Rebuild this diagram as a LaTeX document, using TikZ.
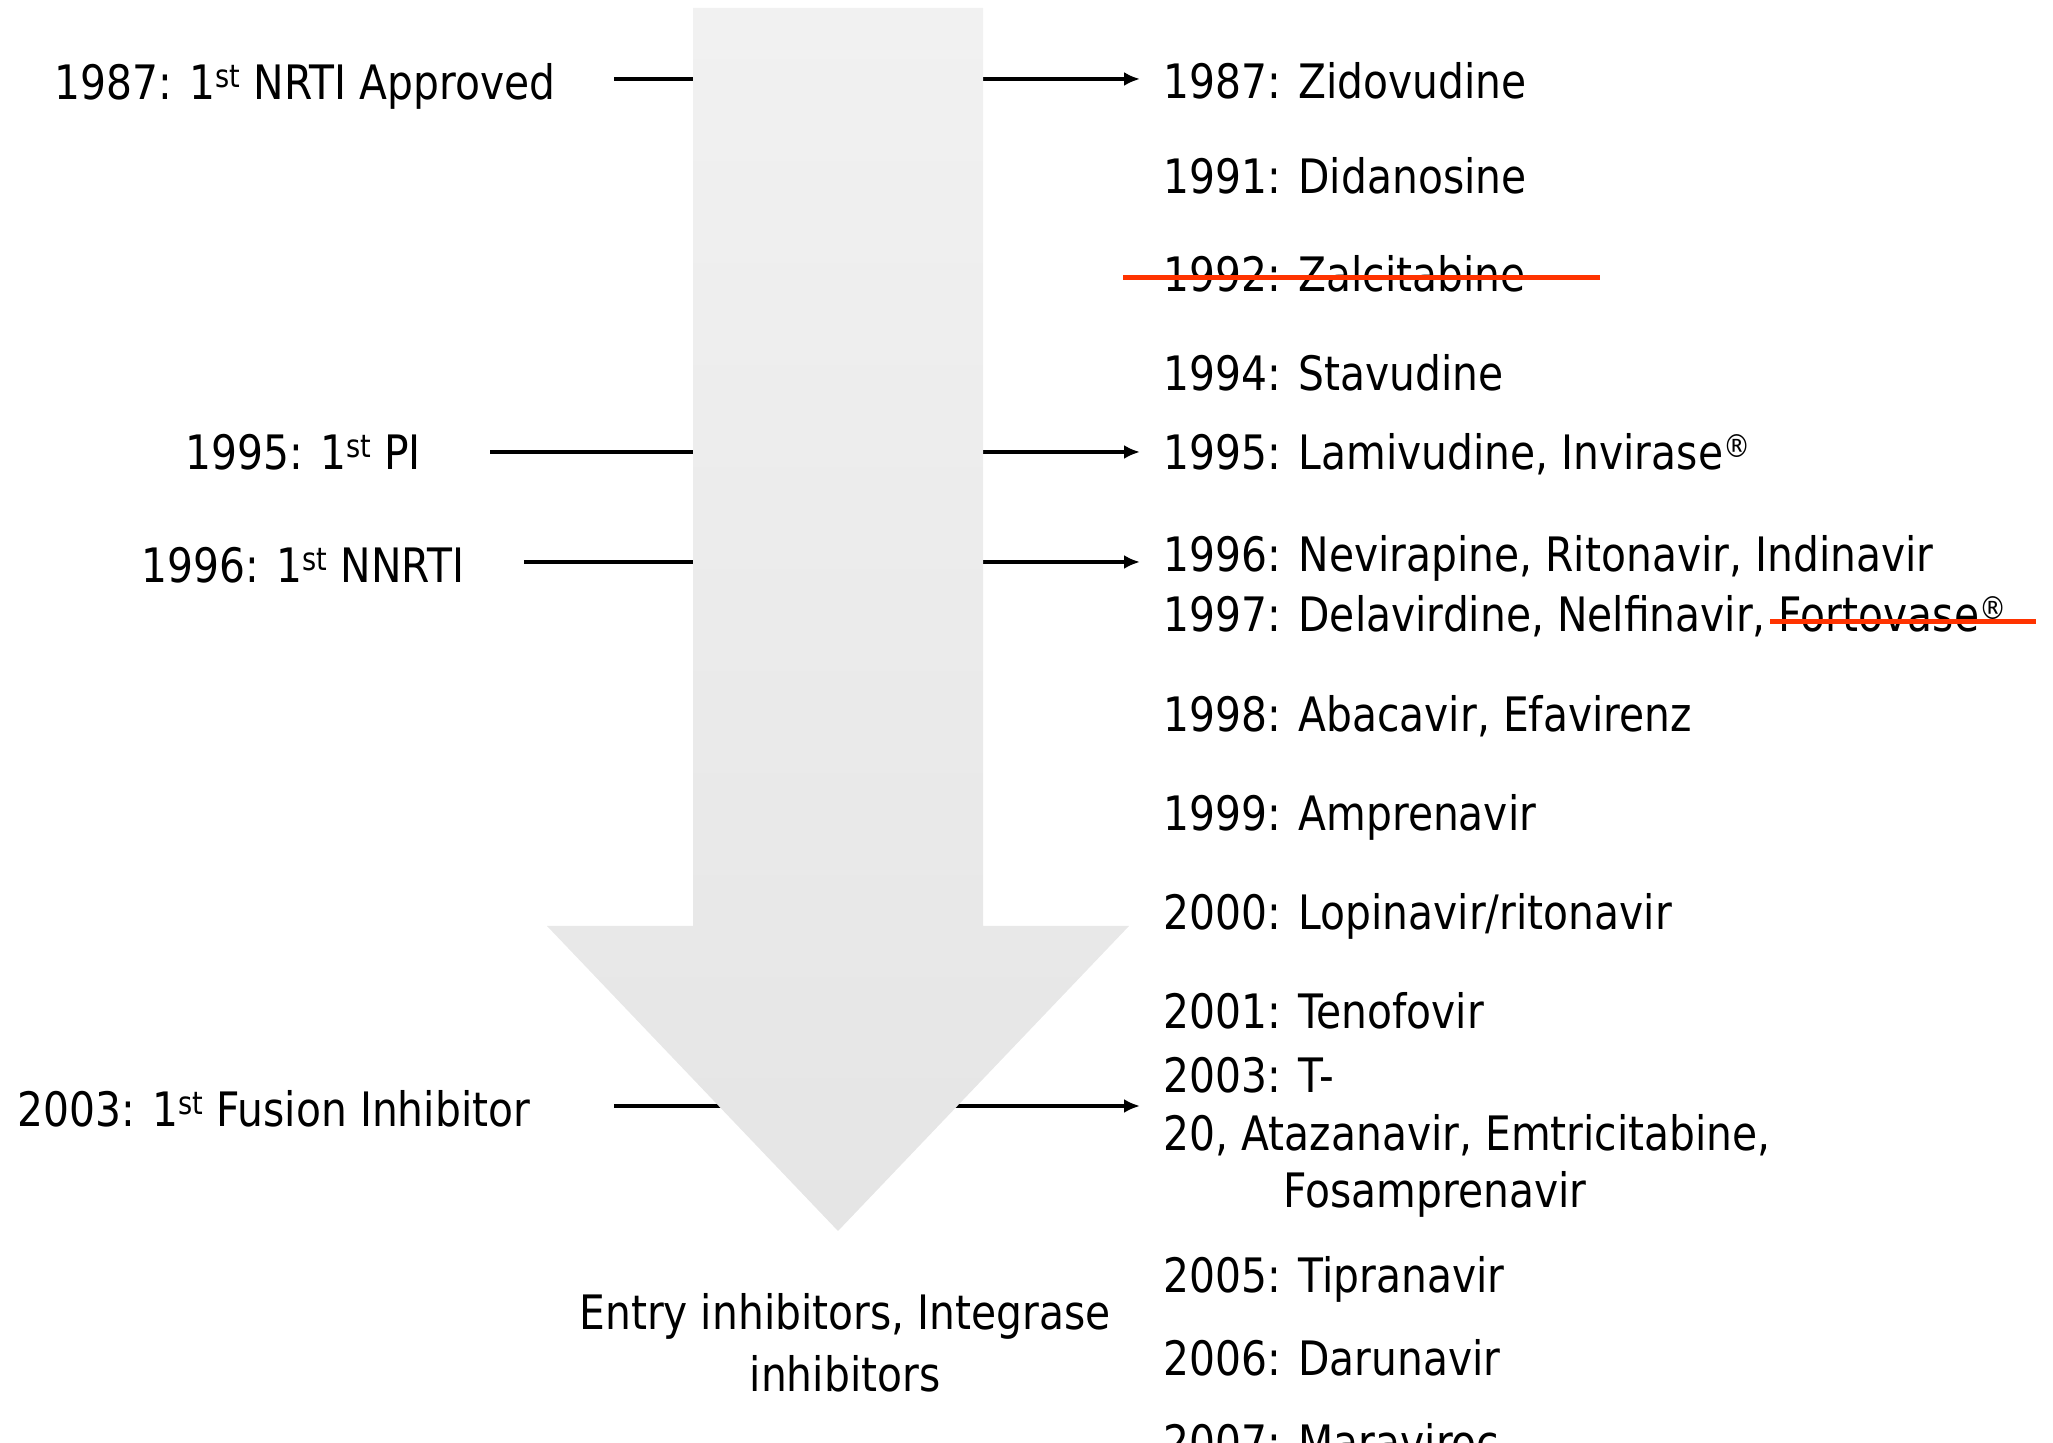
\documentclass[tikz,border=0pt]{standalone}
\usepackage{fontspec}
\setmainfont{DejaVu Sans}[FakeStretch=0.86]
\usetikzlibrary{arrows.meta}
\definecolor{strike}{RGB}{255,51,0}
\definecolor{arrowtop}{RGB}{241,241,241}
\definecolor{arrowbot}{RGB}{229,229,229}
\newcommand{\supr}[1]{\raisebox{0.5ex}{\fontsize{9pt}{10pt}\selectfont #1}}
\begin{document}
\begin{tikzpicture}[x=0.1mm,y=-0.1mm,
  txt/.style={inner sep=0pt,font=\fontsize{13.5pt}{16.2pt}\selectfont},
  rtxt/.style={txt,anchor=base west},
  ltxt/.style={txt,anchor=base},
  conn/.style={line width=0.4mm,-{Latex[length=1.6mm,width=1.4mm]},shorten >=2.3mm},
  strikeout/.style={line width=0.5mm,draw=strike}]
\useasboundingbox (0,0) rectangle (2053,1443);
\begin{scope}
\clip (0,0) rectangle (2053,1443);
% left labels
\node[ltxt] (l1) at (305,100) {1987: 1\supr{st} NRTI Approved};
\node[ltxt] (l2) at (303,470) {1995: 1\supr{st} PI};
\node[ltxt] (l3) at (303,583) {1996: 1\supr{st} NNRTI};
\node[ltxt] (l4) at (274,1127) {2003: 1\supr{st} Fusion Inhibitor};
% right labels
\node[rtxt] (r1987) at (1163,99) {1987: Zidovudine};
\node[rtxt] (r1991) at (1163,194) {1991: Didanosine};
\node[rtxt] (r1992) at (1163,292) {1992: Zalcitabine};
\node[rtxt] (r1994) at (1163,391) {1994: Stavudine};
\node[rtxt] (r1995) at (1163,470) {1995: Lamivudine, Invirase\supr{®}};
\node[rtxt] (r1996) at (1163,572) {1996: Nevirapine, Ritonavir, Indinavir};
\node[rtxt] (r1997) at (1163,632) {1997: Delavirdine, Nelfinavir, Fortovase\supr{®}};
\node[rtxt] (r1998) at (1163,732) {1998: Abacavir, Efavirenz};
\node[rtxt] (r1999) at (1163,831) {1999: Amprenavir};
\node[rtxt] (r2000) at (1163,930) {2000: Lopinavir/ritonavir};
\node[rtxt] (r2001) at (1163,1029) {2001: Tenofovir};
\node[rtxt] (r2003) at (1163,1093) {2003: T-};
\node[rtxt] (r2003b) at (1163,1151) {20, Atazanavir, Emtricitabine,};
\node[rtxt] (r2003c) at (1283,1207) {Fosamprenavir};
\node[rtxt] (r2005) at (1163,1292) {2005: Tipranavir};
\node[rtxt] (r2006) at (1163,1376) {2006: Darunavir};
\node[rtxt] (r2007) at (1163,1459) {2007: Maraviroc};
% connectors (behind the big arrow)
\coordinate (s1) at (614,79);
\coordinate (s2) at (490,452);
\coordinate (s3) at (524,562);
\coordinate (s4) at (614,1106);
\draw[conn] (s1) -- (s1 -| r1987.west);
\draw[conn] (s2) -- (s2 -| r1995.west);
\draw[conn] (s3) -- (s3 -| r1996.west);
\draw[conn] (s4) -- (s4 -| r2003b.west);
% big arrow
\path[top color=arrowtop,bottom color=arrowbot]
  (693,8) -- (983,8) -- (983,926) -- (1129,926) -- (838,1231) -- (547,926) -- (693,926) -- cycle;
% strike-outs
\draw[strikeout] (1123,278) -- (1600,278);
\draw[strikeout] (1770,622) -- (2036,622);
% bottom label
\node[txt,align=center,anchor=base] (future) at (845,1391)
  {Entry inhibitors, Integrase\\[1.2pt]inhibitors};
\end{scope}
\end{tikzpicture}
\end{document}
